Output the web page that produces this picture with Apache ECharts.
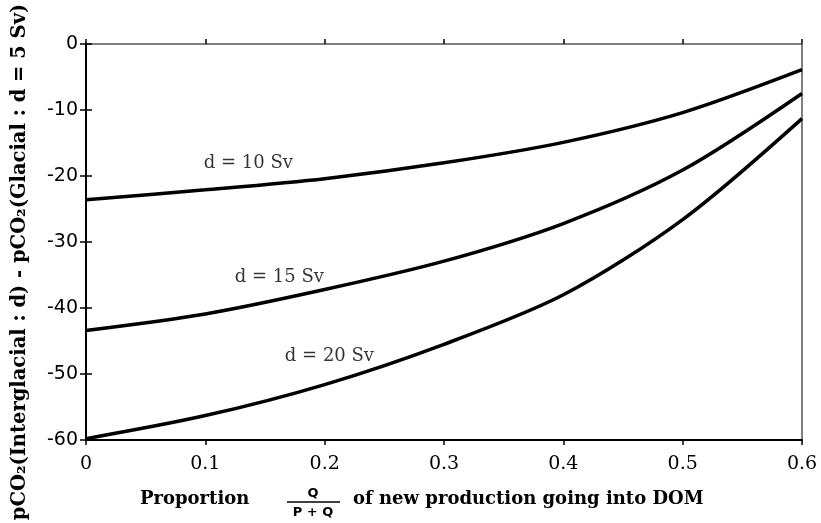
<!DOCTYPE html>
<html>
<head>
<meta charset="utf-8">
<script src="https://cdn.jsdelivr.net/npm/echarts@6/dist/echarts.min.js"></script>
<style>
html,body{margin:0;padding:0;background:#fff;}
#chart{width:821px;height:523px;}
</style>
</head>
<body>
<div id="chart"></div>
<script>
// Data
var proportion = [0, 0.1, 0.2, 0.3, 0.4, 0.5, 0.6];
var d10 = [-23.6, -22.1, -20.4, -18.0, -14.9, -10.4, -3.9];
var d15 = [-43.4, -40.9, -37.2, -32.9, -27.2, -19.1, -7.5];
var d20 = [-59.8, -56.3, -51.6, -45.5, -38.0, -26.6, -11.3];
var seriesNames = ['d = 10 Sv', 'd = 15 Sv', 'd = 20 Sv'];
var labelX = [0.136, 0.162, 0.204];
var labelY = [-18.1, -35.3, -47.3];
var xTicks = [0, 0.1, 0.2, 0.3, 0.4, 0.5, 0.6];
var yTicks = [0, -10, -20, -30, -40, -50, -60];

var chart = echarts.init(document.getElementById('chart'), null, {renderer: 'canvas'});

function pairs(ys) { return proportion.map(function (x, i) { return [x, ys[i]]; }); }

var lineStyle = {color: '#000', width: 3.5};
var serif = 'DejaVu Serif';

var option = {
  backgroundColor: '#fff',
  animation: false,
  grid: {left: 86, right: 19, top: 44, bottom: 83, show: true, borderColor: '#000', borderWidth: 1},
  xAxis: [{
    type: 'value', min: 0, max: 0.6, interval: 0.1,
    axisLine: {show: true, onZero: false, lineStyle: {color: '#000', width: 2}},
    axisTick: {show: true, inside: false, length: 5, lineStyle: {color: '#000', width: 1.5}},
    axisLabel: {color: '#000', fontFamily: serif, fontSize: 19, margin: 15,
      formatter: function (v) { return String(Math.round(v * 10) / 10); }},
    splitLine: {show: false}
  }, {
    type: 'value', min: 0, max: 0.6, interval: 0.1, position: 'bottom',
    axisLine: {show: false},
    axisTick: {show: true, inside: true, length: 5, lineStyle: {color: '#000', width: 1.5}},
    axisLabel: {show: false}, splitLine: {show: false}
  }],
  yAxis: [{
    type: 'value', min: -60, max: 0, interval: 10,
    axisLine: {show: true, onZero: false, lineStyle: {color: '#000', width: 2}},
    axisTick: {show: true, inside: false, length: 6, lineStyle: {color: '#000', width: 1.5}},
    axisLabel: {color: '#000', fontFamily: 'DejaVu Sans', fontSize: 19, margin: 8},
    splitLine: {show: false}
  }, {
    type: 'value', min: -60, max: 0, interval: 10, position: 'left',
    axisLine: {show: false},
    axisTick: {show: true, inside: true, length: 6, lineStyle: {color: '#000', width: 1.5}},
    axisLabel: {show: false}, splitLine: {show: false}
  }],
  series: [
    {type: 'line', name: seriesNames[0], data: pairs(d10), smooth: 0.3, symbol: 'none', lineStyle: lineStyle},
    {type: 'line', name: seriesNames[1], data: pairs(d15), smooth: 0.3, symbol: 'none', lineStyle: lineStyle},
    {type: 'line', name: seriesNames[2], data: pairs(d20), smooth: 0.3, symbol: 'none', lineStyle: lineStyle},
    {type: 'scatter', symbolSize: 0, silent: true,
      data: seriesNames.map(function (n, i) { return {name: n, value: [labelX[i], labelY[i]]}; }),
      label: {show: true, position: 'inside', formatter: '{b}', color: '#000', fontFamily: serif, fontSize: 18}
    }
  ],
  graphic: [
    {type: 'text', left: 140, top: 490, style: {text: 'Proportion', font: 'bold 18px "DejaVu Serif"', fill: '#000'}},
    {type: 'text', x: 313, y: 494, style: {text: 'Q', font: 'bold 13px "DejaVu Sans"', fill: '#000', align: 'center', verticalAlign: 'middle'}},
    {type: 'line', shape: {x1: 287, y1: 502, x2: 340, y2: 502}, style: {stroke: '#000', lineWidth: 1.5}},
    {type: 'text', x: 313, y: 513, style: {text: 'P + Q', font: 'bold 13px "DejaVu Sans"', fill: '#000', align: 'center', verticalAlign: 'middle'}},
    {type: 'text', left: 353, top: 490, style: {text: 'of new production going into DOM', font: 'bold 18px "DejaVu Serif"', fill: '#000'}},
    {type: 'text', x: 20, y: 262, rotation: Math.PI / 2,
      style: {text: 'pCO\u2082(Interglacial : d) - pCO\u2082(Glacial : d = 5 Sv)', font: 'bold 19.5px "DejaVu Serif"', fill: '#000', align: 'center', verticalAlign: 'middle'}}
  ]
};
chart.setOption(option);
</script>
</body>
</html>
